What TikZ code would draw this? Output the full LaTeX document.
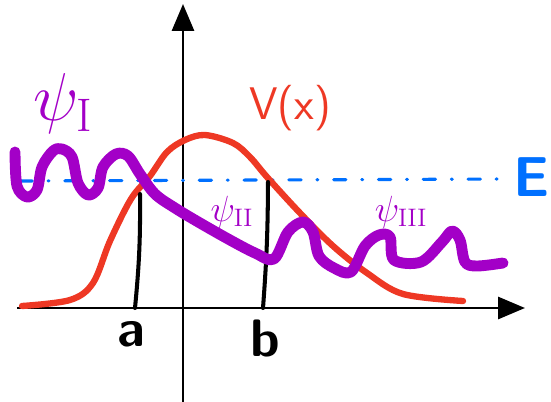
\documentclass[tikz,border=0pt]{standalone}
\usepackage{amssymb,amsmath}
\usepackage{tikz}
\usetikzlibrary{arrows.meta}

\definecolor{vred}{RGB}{238,56,36}
\definecolor{psipurple}{RGB}{163,0,199}
\definecolor{eblue}{RGB}{0,112,255}

\begin{document}
\begin{tikzpicture}[x=0.02cm, y=-0.02cm,
  axisline/.style={line width=1.7pt, -{Triangle[length=0.54cm,width=0.44cm]}},
  potential/.style={vred, line width=3.6pt, line cap=round, line join=round},
  wavefn/.style={psipurple, line width=6.2pt, line cap=round, line join=round},
  turnpt/.style={line width=2.3pt, line cap=round},
  level/.style={eblue, line width=1.8pt, line cap=round, dash pattern=on 7pt off 9pt on 0.5pt off 9pt},
  lbl/.style={inner sep=0pt, font=\sffamily\bfseries\fontsize{30}{32}\selectfont}]

\useasboundingbox (0,0) rectangle (551,402);

% axes
\coordinate (xstart) at (17,308);
\coordinate (xend) at (525,308);
\coordinate (ystart) at (183,402);
\coordinate (yend) at (183,4);
\draw[axisline] (xstart) -- (xend);
\draw[axisline] (ystart) -- (yend);

% energy level
\node[lbl, text=eblue, anchor=east, font=\sffamily\bfseries\fontsize{32}{34}\selectfont] (E) at (550,177) {E};
\coordinate (lvlstart) at (20,181);
\draw[level] (lvlstart) -- ([xshift=-0.08cm]E.west |- 0,179);

% potential
\draw[potential] plot[smooth, tension=0.55] coordinates {
  (22,306) (70,300) (93,283) (110,241) (131,199) (150,176) (167,152)
  (185,140) (205,135) (233,143) (250,157) (267,177) (300,213)
  (333,246) (367,273) (403,294) (463,301)};
\node[lbl, text=vred, font=\sffamily\fontsize{26}{28}\selectfont] (V) at (290,108) {V(x)};

% turning points
\coordinate (a0) at (135,308);
\coordinate (a1) at (140,194);
\coordinate (b0) at (263,308);
\coordinate (b1) at (268,182);
\draw[turnpt] (a0) to[bend right=3] (a1);
\draw[turnpt] (b0) to[bend right=2] (b1);
\node[lbl] (a) at (131,334) {a};
\node[lbl] (b) at (265,338) {b};

% wave function
\draw[wavefn] plot[smooth, tension=0.55] coordinates {
  (15,152) (17,186) (27,197) (37,190) (42,167) (53,151) (62,149)
  (72,157) (78,183) (88,195) (98,188) (103,167) (116,154) (128,156)
  (140,174) (155,194) (175,208) (200,223) (230,240) (255,253) (274,259)
  (288,232) (303,222) (313,232) (319,256) (334,268) (351,272)
  (365,246) (379,235) (390,237) (394,260) (421,262) (442,242)
  (452,231) (460,240) (465,262) (477,266) (503,263)};
\node[lbl, text=psipurple, font=\fontsize{24}{26}\selectfont] (psiI) at (63,104) {\scalebox{1.55}{$\psi_{\mathrm{I}}$}};
\node[lbl, text=psipurple, font=\fontsize{20}{22}\selectfont] (psiII) at (232,212) {$\psi_{\mathrm{II}}$};
\node[lbl, text=psipurple, font=\fontsize{20}{22}\selectfont] (psiIII) at (401,212) {$\psi_{\mathrm{III}}$};

\end{tikzpicture}
\end{document}
